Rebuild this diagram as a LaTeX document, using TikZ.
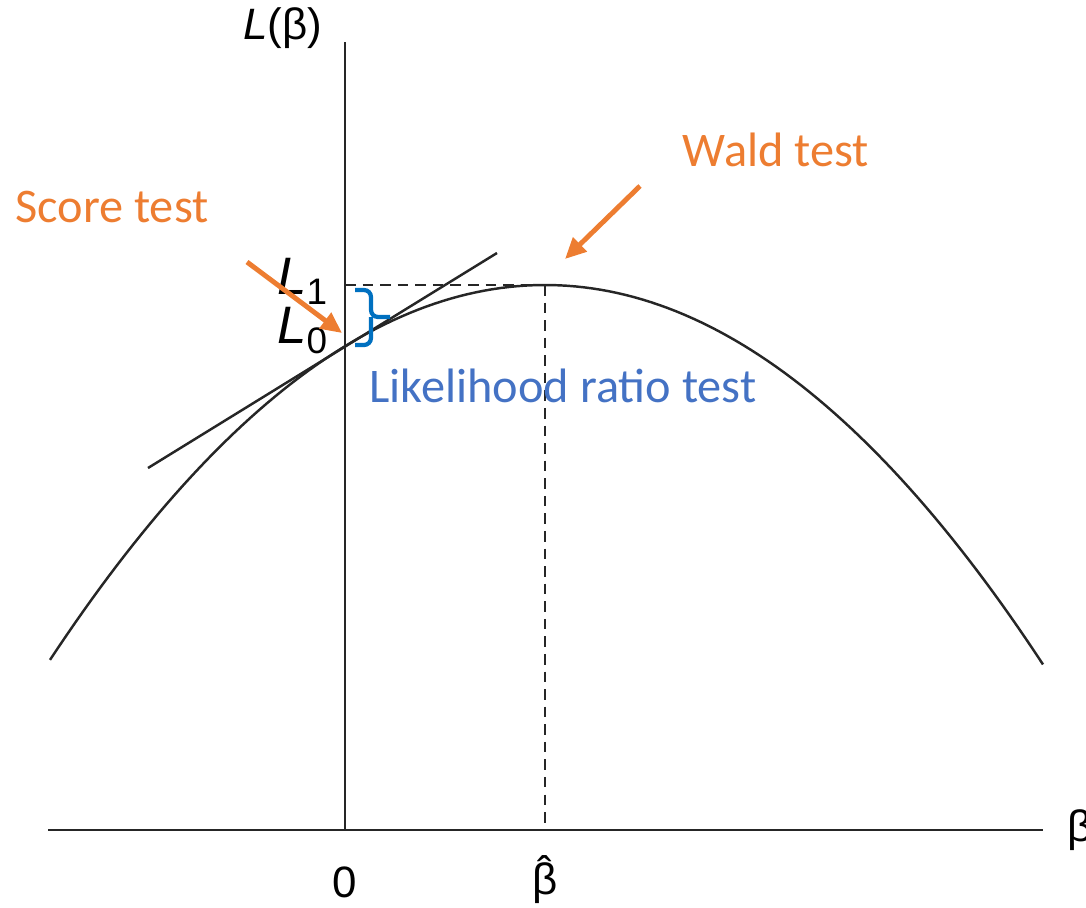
\documentclass[tikz,border=0pt]{standalone}
\usepackage{fontspec}
\setmainfont{Liberation Sans}
\newfontfamily\callout{Carlito}
\usetikzlibrary{positioning, arrows.meta}
\definecolor{testorange}{RGB}{237,125,49}
\definecolor{ratioblue}{RGB}{68,114,196}
\definecolor{bracebl}{RGB}{0,112,192}

\begin{document}
\begin{tikzpicture}[
  x=0.02cm, y=-0.02cm,
  every node/.style={font=\fontsize{25}{30}\selectfont, inner sep=0pt},
  axis/.style={line width=1.5pt, black!85},
  curve/.style={line width=1.4pt, black!85},
  guide/.style={line width=1.4pt, black!85, dash pattern=on 6pt off 4pt},
  label/.style={text=testorange, font=\callout\fontsize{27.5}{32}\selectfont},
  hint/.style={-{Triangle[length=4.2mm, width=3.8mm]}, line width=2.8pt, testorange},
  gap/.style={line width=2.4pt, bracebl, rounded corners=4pt}
]
\useasboundingbox (0,0) rectangle (1086,907);

% axes
\coordinate (origin) at (345,830);
\coordinate (ytop) at (345,42);
\coordinate (xleft) at (48,830);
\coordinate (xright) at (1043,830);
\draw[axis] (origin) -- (ytop);
\draw[axis] (xleft) -- (xright);

% log-likelihood curve and its peak
\coordinate (peak) at (545,285);
\coordinate (Lone) at (345,285);
\coordinate (peakfoot) at (545,830);
\draw[curve] plot[domain=50:1043, samples=120] (\x, {285+15.3*((\x-545)/100)^2});

% tangent at beta = 0
\coordinate (tanlo) at (148,468);
\coordinate (tanhi) at (497,253);
\draw[curve] (tanlo) -- (tanhi);

% dashed guides to the maximum
\draw[guide] (Lone) -- (peak);
\draw[guide] (peak) -- (peakfoot);

% axis labels
\node (ylab) at (283,28) {\textit{L}(β)};
\node[anchor=west] (xlab) at (1067,830) {β};
\node (zero) at (345,882) {0};
\node (bhat) at (545,880) {\accent"02C6 β};
\node[anchor=base west, font=\fontsize{30}{32}\selectfont] (lone) at (277,294)
  {\textit{L}\raisebox{-6pt}{\fontsize{21}{22}\selectfont 1}};
\node[anchor=base west, font=\fontsize{30}{32}\selectfont] (lzero) at (277,343)
  {\textit{L}\raisebox{-6pt}{\fontsize{21}{22}\selectfont 0}};

% likelihood ratio gap
\coordinate (brtop) at (355,290);
\coordinate (brbot) at (355,345);
\coordinate (brmid) at (371,317);
\coordinate (brtip) at (390,317);
\draw[gap] (brtop) -| (brmid) -- (brtip);
\draw[gap] (brmid) |- (brbot);
\node[text=ratioblue, font=\callout\fontsize{27.5}{32}\selectfont] (lrt) at (563,386) {Likelihood ratio test};

% score and Wald tests
\node[label] (score) at (112,207) {Score test};
\node[label] (wald) at (776,150) {Wald test};
\coordinate (scorefrom) at (247,262);
\coordinate (scoreto) at (342,333);
\coordinate (waldfrom) at (640,186);
\coordinate (waldto) at (565,259);
\draw[hint] (scorefrom) -- (scoreto);
\draw[hint] (waldfrom) -- (waldto);
\end{tikzpicture}
\end{document}
